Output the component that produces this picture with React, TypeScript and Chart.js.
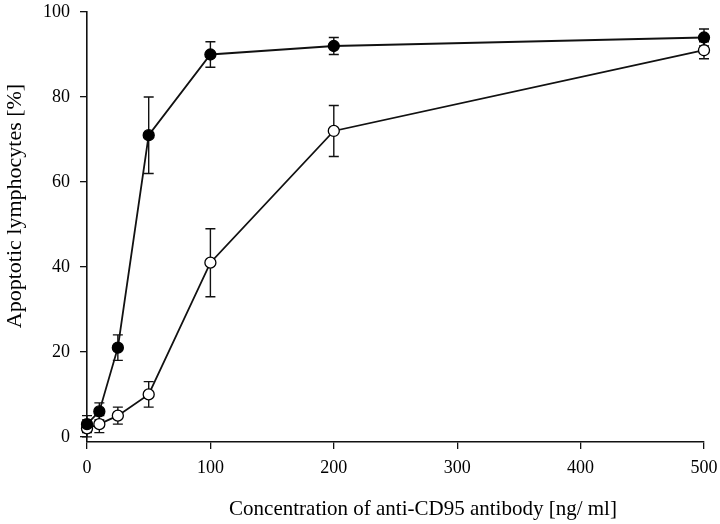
import React, { useEffect, useRef } from 'react';
import { Chart, registerables } from 'chart.js';
Chart.register(...registerables);

const concentrations = [0, 10, 25, 50, 100, 200, 500];
const filledMean = [3, 6, 21, 71, 90, 92, 94];
const filledErr = [2, 2, 3, 9, 3, 2, 2];
const openMean = [2, 3, 5, 10, 41, 72, 91];
const openErr = [2, 2, 2, 3, 8, 6, 2];
const xTicks = [0, 100, 200, 300, 400, 500];
const yTicks = [0, 20, 40, 60, 80, 100];
const xTitle = 'Concentration of anti-CD95 antibody [ng/ ml]';
const yTitle = 'Apoptotic lymphocytes [%]';

const FONT = "'Liberation Serif', 'Times New Roman', serif";
const errors = [filledErr, openErr];
const means = [filledMean, openMean];

const errorBarPlugin = {
  id: 'errorBars',
  beforeDatasetsDraw(chart: any) {
    const ctx = chart.ctx;
    const yScale = chart.scales.y;
    ctx.save();
    ctx.strokeStyle = '#111';
    ctx.lineWidth = 1.4;
    chart.data.datasets.forEach((_: any, di: number) => {
      const meta = chart.getDatasetMeta(di);
      meta.data.forEach((pt: any, i: number) => {
        const m = means[di][i];
        const e = errors[di][i];
        const x = pt.x;
        const yt = yScale.getPixelForValue(m + e);
        const yb = yScale.getPixelForValue(m - e);
        const cap = 5;
        ctx.beginPath();
        ctx.moveTo(x, yt);
        ctx.lineTo(x, yb);
        ctx.moveTo(x - cap, yt);
        ctx.lineTo(x + cap, yt);
        ctx.moveTo(x - cap, yb);
        ctx.lineTo(x + cap, yb);
        ctx.stroke();
      });
    });
    ctx.restore();
  },
};

const titlesPlugin = {
  id: 'axisTitles',
  afterDraw(chart: any) {
    const ctx = chart.ctx;
    ctx.save();
    ctx.fillStyle = '#000';
    ctx.textAlign = 'center';
    ctx.textBaseline = 'middle';
    ctx.font = `21px ${FONT}`;
    ctx.fillText(xTitle, 423, 509);
    ctx.translate(15, 206);
    ctx.rotate(-Math.PI / 2);
    ctx.font = `22px ${FONT}`;
    ctx.fillText(yTitle, 0, 0);
    ctx.restore();
  },
};

export default function App() {
  const ref = useRef<HTMLCanvasElement>(null);
  useEffect(() => {
    const pointStyle = {
      borderColor: '#111',
      borderWidth: 1.8,
      pointRadius: 5.5,
      pointBorderColor: '#000',
      pointBorderWidth: 1.3,
      tension: 0,
      clip: false as any,
    };
    const chart = new Chart(ref.current!, {
      type: 'line',
      data: {
        datasets: [
          {
            ...pointStyle,
            data: concentrations.map((x, i) => ({ x, y: filledMean[i] })),
            pointBackgroundColor: '#000',
          },
          {
            ...pointStyle,
            data: concentrations.map((x, i) => ({ x, y: openMean[i] })),
            pointBackgroundColor: '#fff',
          },
        ],
      },
      options: {
        animation: false,
        responsive: true,
        maintainAspectRatio: false,
        layout: { padding: { top: 12, right: 16, left: 0, bottom: 0 } },
        plugins: { legend: { display: false }, tooltip: { enabled: false } },
        scales: {
          x: {
            type: 'linear',
            min: 0,
            max: 500,
            afterBuildTicks: (s: any) => { s.ticks = xTicks.map((v) => ({ value: v })); },
            afterFit: (s: any) => { s.height = 82; s.paddingLeft = 0; s.paddingRight = 0; },
            grid: { display: true, drawOnChartArea: false, drawTicks: true, tickLength: 7, color: '#111', lineWidth: 1.3 },
            border: { display: true, color: '#111', width: 1.6 },
            ticks: { color: '#000', font: { family: FONT, size: 18 }, padding: 8, maxRotation: 0 },
            title: { display: false },
          },
          y: {
            type: 'linear',
            min: -1.2,
            max: 100,
            afterBuildTicks: (s: any) => { s.ticks = yTicks.map((v) => ({ value: v })); },
            afterFit: (s: any) => { s.width = 87; s.paddingTop = 0; s.paddingBottom = 0; },
            grid: { display: true, drawOnChartArea: false, drawTicks: true, tickLength: 7, color: '#111', lineWidth: 1.3 },
            border: { display: true, color: '#111', width: 1.6 },
            ticks: { color: '#000', font: { family: FONT, size: 18 }, padding: 10 },
            title: { display: false },
          },
        },
      },
      plugins: [errorBarPlugin, titlesPlugin],
    });
    return () => chart.destroy();
  }, []);
  return (
    <div style={{ position: 'fixed', left: 0, top: 0, width: 720, height: 524, background: '#fff' }}>
      <canvas ref={ref} />
    </div>
  );
}
